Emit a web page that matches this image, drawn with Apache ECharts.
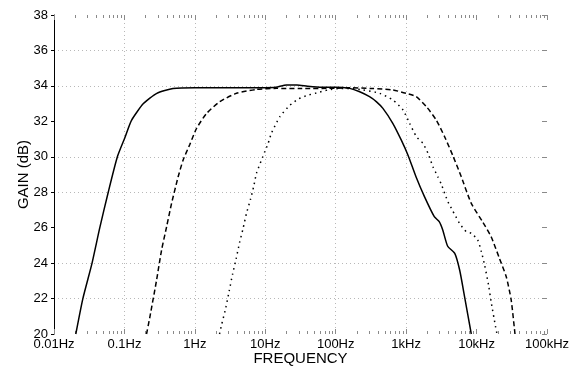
<!DOCTYPE html>
<html>
<head>
<meta charset="utf-8">
<script src="https://cdn.jsdelivr.net/npm/echarts@6/dist/echarts.min.js"></script>
<style>
html,body{margin:0;padding:0;background:#fff;}
#chart{width:583px;height:366px;}
</style>
</head>
<body>
<div id="chart"></div>
<script>
// ---- data (frequency in Hz, gain in dB) ----
var xTickLabels = ['0.01Hz','0.1Hz','1Hz','10Hz','100Hz','1kHz','10kHz','100kHz'];
var yTicks = [20,22,24,26,28,30,32,34,36,38];

var solidFreq = [0.0204,0.0257,0.0347,0.0447,0.0589,0.0794,0.102,0.126,0.186,0.288,0.49,1,3.16,10,14.1,20,28.2,39.8,63,100,158,219,302,380,468,646,851,1070,1380,1820,2510,2950,3310,3890,4900,5750,6760,8410];
var solidGain = [20.0,22.0,24.0,26.0,28.0,30.0,31.1,32.05,33.0,33.58,33.85,33.9,33.9,33.9,33.92,34.05,34.05,33.98,33.92,33.93,33.86,33.67,33.39,33.1,32.73,31.89,30.95,30.06,28.87,27.75,26.62,26.34,25.87,24.95,24.55,23.61,22.1,20.0];

var dashedFreq = [0.206,0.230,0.286,0.337,0.397,0.467,0.579,0.682,0.849,1.06,1.47,2.26,3.9,7.5,14.5,31.6,100,158,338,650,1000,1390,1940,2680,3520,4610,6070,8410,12300,16100,21200,26400,31000,35100];
var dashedGain = [20.0,20.97,23.04,24.74,26.05,27.37,28.87,29.82,30.7,31.61,32.45,33.11,33.58,33.8,33.86,33.85,33.87,33.9,33.85,33.77,33.58,33.39,32.83,32.07,31.13,30.06,28.87,27.37,26.3,25.49,24.25,23.23,21.92,20.0];

var dottedFreq = [2.24,2.39,2.75,3.07,3.43,3.85,4.31,4.84,5.41,6.17,6.87,7.5,9.84,11.0,12.2,16.1,22.3,29.2,38.4,53.2,79.4,112,158,244,421,650,902,1120,1400,1730,2040,2400,2820,3160,3520,3920,4520,5740,7140,8410,10400,11700,13000,14800,16100,18600,19500];
var dottedGain = [20.0,20.5,21.48,22.42,23.37,24.23,25.15,25.96,26.81,27.6,28.35,29.07,30.29,30.76,31.32,32.26,32.9,33.25,33.45,33.6,33.78,33.85,33.85,33.77,33.58,33.2,32.64,31.89,31.13,30.76,30.2,29.44,28.87,28.45,27.94,27.46,27.0,26.24,25.77,25.68,25.3,24.64,23.89,22.76,21.82,20.41,20.0];

function pairs(xs, ys){ var out=[]; for(var i=0;i<xs.length;i++) out.push([xs[i], ys[i]]); return out; }

// tick positions (log10 space) for helper tick axes
var majorTickPos = [], minorTickPos = [];
for (var d=-2; d<=5; d++){
  majorTickPos.push(d);
  if (d<5) for (var k=2;k<=9;k++) minorTickPos.push(d+Math.log10(k));
}

var GRID = '#b8b8b8', TICK = '#8a8a8a', TR = 'rgba(0,0,0,0)';
var FONT = 'Liberation Sans, Arial, Helvetica, sans-serif';

function helperX(pos, vals, len){
  return {
    type:'value', min:-2, max:5, position:pos, gridIndex:0,
    axisLine:{show:false, onZero:false}, axisLabel:{show:false}, splitLine:{show:false},
    axisTick:{show:true, inside:true, length:len, customValues:vals, lineStyle:{color:TICK, width:1}}
  };
}

var chart = echarts.init(document.getElementById('chart'), null, {renderer:'canvas'});
chart.setOption({
  animation:false,
  backgroundColor:'#fff',
  grid:{left:54, right:36, top:15, bottom:32, containLabel:false, outerBoundsMode:'none'},
  xAxis:[
    {
      type:'log', logBase:10, min:0.01, max:100000, position:'bottom',
      name:'FREQUENCY', nameLocation:'middle', nameGap:17, nameMoveOverlap:false,
      nameTextStyle:{fontFamily:FONT, fontSize:15, color:'#000', verticalAlign:'top'},
      axisLine:{show:false, onZero:false},
      axisTick:{show:false},
      axisLabel:{show:true, margin:4, fontFamily:FONT, fontSize:13, color:'#000',
        formatter:function(v){ var i=Math.round(Math.log10(v))+2; return xTickLabels[i]||''; }},
      splitLine:{show:true, showMinLine:true, showMaxLine:true,
        lineStyle:{type:[1,3], width:1, color:[TR,GRID,GRID,GRID,GRID,GRID,TR,TR]}}
    },
    helperX('bottom', majorTickPos, 5),
    helperX('bottom', minorTickPos, 3),
    helperX('top', majorTickPos, 5),
    helperX('top', minorTickPos, 3)
  ],
  yAxis:[
    {
      type:'value', min:20, max:38, interval:2, position:'left',
      name:'GAIN (dB)', nameLocation:'middle', nameGap:23, nameMoveOverlap:false,
      nameTextStyle:{fontFamily:FONT, fontSize:15, color:'#000'},
      axisLine:{show:true, onZero:false, lineStyle:{color:'#000', width:1}},
      axisTick:{show:true, inside:false, length:3, lineStyle:{color:'#000'}},
      axisLabel:{margin:6, fontFamily:FONT, fontSize:13, color:'#000'},
      splitLine:{show:true, showMinLine:true, showMaxLine:true,
        lineStyle:{type:[1,3], width:1, color:[TR,GRID,GRID,TR,GRID,GRID,TR,GRID,GRID,TR]}}
    },
    {
      type:'value', min:20, max:38, interval:2, position:'right',
      axisLine:{show:false, onZero:false}, axisLabel:{show:false}, splitLine:{show:false},
      axisTick:{show:true, inside:true, length:5, lineStyle:{color:TICK}}
    }
  ],
  series:[
    {type:'line', name:'solid', xAxisIndex:0, yAxisIndex:0, data:pairs(solidFreq, solidGain),
      showSymbol:false, smooth:0.2, lineStyle:{color:'#000', width:1.5, type:'solid'}},
    {type:'line', name:'dashed', xAxisIndex:0, yAxisIndex:0, data:pairs(dashedFreq, dashedGain),
      showSymbol:false, smooth:0.2, lineStyle:{color:'#000', width:1.5, type:[5,3]}},
    {type:'line', name:'dotted', xAxisIndex:0, yAxisIndex:0, data:pairs(dottedFreq, dottedGain),
      showSymbol:false, smooth:0.2, lineStyle:{color:'#000', width:1.5, type:[1.5,4]}}
  ]
});
</script>
</body>
</html>
